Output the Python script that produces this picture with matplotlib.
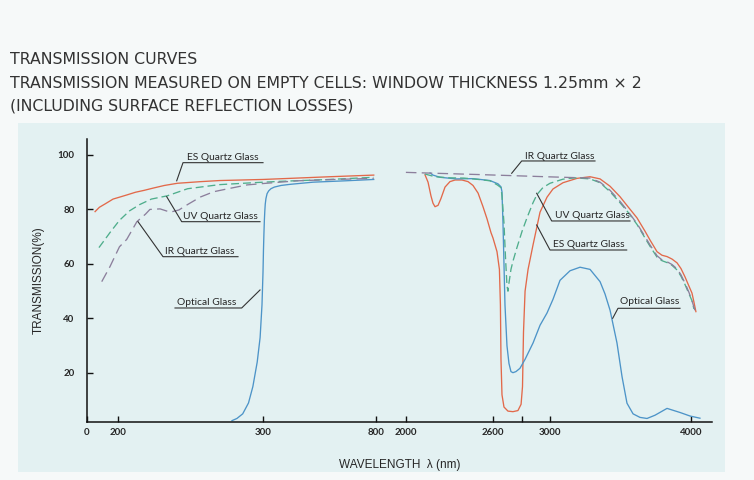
import matplotlib
matplotlib.use("Agg")
import matplotlib.pyplot as plt
import numpy as np
from matplotlib.patches import Rectangle

# broken wavelength axis: wavelength (nm) -> relative axis position
scale_wl = [0, 200, 300, 800, 2000, 2600, 3000, 4000, 4150]
scale_pos = [0, 31, 176, 289, 319, 406, 463, 604, 625]

x_ticks = [0, 200, 300, 800, 2000, 2600, 2800, 3000, 4000]
x_tick_labels = ["0", "200", "300", "800", "2000", "2600", "", "3000", "4000"]
y_ticks = [20, 40, 60, 80, 100]

# ---- UV / visible part (left of the break) ----
es_uv_wl = [52, 80, 116, 168, 201, 206, 212, 218, 224, 232, 241, 257, 270, 300, 419, 596, 790]
es_uv_t = [79.2, 80.8, 82.0, 83.8, 84.5, 85.3, 86.3, 87.0, 87.8, 88.8, 89.6, 90.2, 90.6, 91.0, 91.4, 92.0, 92.6]

uv_uv_wl = [77, 116, 148, 201, 208, 215, 223, 234, 248, 270, 293, 375, 596, 790]
uv_uv_t = [66.0, 69.0, 71.5, 76.0, 79.5, 81.8, 83.8, 85.0, 87.6, 89.1, 89.8, 90.3, 91.0, 91.8]

ir_uv_wl = [95, 148, 201, 206, 213, 219, 222, 229, 236, 242, 248, 257, 266, 275, 289, 300, 450, 619, 790]
ir_uv_t = [53.5, 59.0, 66.3, 69.0, 75.5, 78.3, 80.0, 80.2, 79.0, 79.8, 81.8, 84.6, 86.5, 87.5, 89.0, 89.5, 90.5, 91.0, 91.4]

opt_uv_wl = [278.6, 282, 286, 290, 293, 296, 298, 299.3, 300, 302, 304, 306, 308, 310, 313, 318,
             325, 335, 350, 380, 419, 521, 663, 790]
opt_uv_t = [2.5, 3.3, 5.0, 9.0, 15.0, 24.0, 33.0, 45.0, 57.0, 65.0, 71.0, 76.0, 79.5, 82.0, 84.0, 85.8,
            86.8, 87.6, 88.2, 88.8, 89.2, 90.0, 90.5, 91.0]

# ---- IR part (right of the break) ----
es_ir_wl = [2131, 2152, 2172, 2186, 2200, 2221, 2241, 2269, 2303, 2338, 2386, 2428, 2462, 2497,
            2531, 2559, 2586, 2600, 2628, 2645, 2652, 2656, 2663, 2677, 2705, 2740, 2775, 2797,
            2807, 2814, 2825, 2846, 2881, 2930, 2979, 3021, 3092, 3191, 3284, 3355, 3426, 3496,
            3553, 3617, 3674, 3709, 3759, 3794, 3830, 3865, 3901, 3929, 3957, 3986, 4007, 4021, 4035]
es_ir_t = [92.7, 90.0, 85.0, 82.3, 81.0, 81.5, 84.0, 88.2, 90.2, 90.8, 90.8, 90.2, 88.8, 86.0,
           81.0, 76.5, 71.5, 69.5, 64.5, 58.0, 45.0, 25.0, 12.0, 7.5, 6.0, 5.8, 6.2, 8.5,
           15.0, 35.0, 50.0, 58.0, 67.0, 79.0, 84.5, 87.5, 89.8, 91.4, 92.0, 91.2, 88.5, 84.7,
           81.0, 76.9, 72.0, 68.8, 64.5, 63.2, 62.7, 61.8, 60.4, 58.3, 55.3, 51.8, 49.3, 46.0, 42.5]

uv_ir_wl = [2130, 2200, 2300, 2400, 2500, 2580, 2630, 2656, 2663, 2677, 2688, 2698, 2705, 2712,
            2726, 2740, 2768, 2804, 2839, 2881, 2909, 2950, 3000, 3092, 3177, 3284, 3355, 3426,
            3496, 3553, 3617, 3674, 3709, 3759, 3794, 3830, 3865, 3901, 3929, 3957, 3986, 4007, 4021]
uv_ir_t = [93.0, 92.0, 91.6, 91.5, 91.0, 90.5, 89.0, 88.0, 85.0, 75.0, 62.0, 52.0, 50.0, 53.0,
           58.0, 61.0, 66.0, 72.0, 77.0, 82.5, 85.5, 88.0, 89.6, 91.1, 91.6, 91.2, 89.8, 86.5,
           82.5, 79.0, 74.5, 69.5, 66.5, 62.5, 61.2, 60.5, 59.5, 57.8, 55.5, 52.5, 49.0, 46.5, 43.5]

ir_ir_wl = [1995, 2500, 3000, 3284, 3355, 3426, 3496, 3553, 3617, 3674, 3709, 3759, 3794,
            3830, 3865, 3901, 3929, 3957, 3986, 4007, 4028]
ir_ir_t = [93.6, 92.8, 91.95, 91.5, 90.0, 87.0, 83.0, 79.3, 74.8, 70.0, 67.0, 63.0, 61.5,
           60.8, 59.8, 58.2, 56.0, 53.0, 49.5, 46.5, 43.0]

opt_ir_wl = [2166, 2186, 2234, 2345, 2462, 2579, 2635, 2656, 2663, 2670, 2677, 2684, 2698, 2712,
             2726, 2740, 2761, 2789, 2825, 2881, 2930, 2979, 3021, 3071, 3142, 3213, 3284, 3355,
             3390, 3426, 3475, 3511, 3546, 3589, 3638, 3688, 3745, 3830, 3922, 3993, 4064]
opt_ir_t = [93.4, 92.6, 91.8, 91.2, 91.3, 90.6, 89.4, 88.3, 86.5, 75.0, 60.0, 45.0, 30.0, 23.5,
            20.5, 20.1, 20.5, 21.7, 25.0, 31.0, 37.5, 42.0, 47.0, 54.0, 57.5, 58.8, 58.0, 53.5,
            49.0, 43.0, 31.0, 18.6, 8.9, 5.0, 3.7, 3.3, 4.5, 7.0, 5.5, 4.2, 3.4]

ES_COLOR = "#e2694a"
UV_COLOR = "#4fae8c"
IR_COLOR = "#8c7f9c"
OPT_COLOR = "#4d94c8"
INK = "#262626"

plt.rcParams["font.family"] = ["Lato", "DejaVu Sans"]

fig = plt.figure(figsize=(7.54, 4.8), dpi=100)
fig.patch.set_facecolor("#f6f9f9")
fig.patches.append(Rectangle((0.024, 0.017), 0.938, 0.727, transform=fig.transFigure,
                             facecolor="#e3f1f2", edgecolor="none", zorder=-5))

ax = fig.add_axes([0.1154, 0.1208, 0.8289, 0.5905])
ax.set_facecolor("none")
ax.set_zorder(2)


def fwd(x):
    return np.interp(x, scale_wl, scale_pos)


def inv(p):
    return np.interp(p, scale_pos, scale_wl)


ax.set_xscale("function", functions=(fwd, inv))
ax.set_xlim(0, 4150)
ax.set_ylim(2, 106)

lw = 0.95
ax.plot(es_uv_wl, es_uv_t, color=ES_COLOR, lw=lw)
ax.plot(es_ir_wl, es_ir_t, color=ES_COLOR, lw=lw)
ax.plot(opt_uv_wl, opt_uv_t, color=OPT_COLOR, lw=lw)
ax.plot(opt_ir_wl, opt_ir_t, color=OPT_COLOR, lw=lw)
ax.plot(uv_uv_wl, uv_uv_t, color=UV_COLOR, lw=lw, dashes=(6, 3))
ax.plot(uv_ir_wl, uv_ir_t, color=UV_COLOR, lw=lw, dashes=(6, 3))
ax.plot(ir_uv_wl, ir_uv_t, color=IR_COLOR, lw=lw, dashes=(8, 4))
ax.plot(ir_ir_wl, ir_ir_t, color=IR_COLOR, lw=lw, dashes=(8, 4))

for side in ["top", "right"]:
    ax.spines[side].set_visible(False)
for side in ["left", "bottom"]:
    ax.spines[side].set_linewidth(1.1)
    ax.spines[side].set_color("#111111")

ax.set_xticks(x_ticks)
ax.set_xticklabels(x_tick_labels)
ax.set_yticks(y_ticks)
ax.minorticks_off()
ax.tick_params(axis="both", direction="in", length=4, width=1.0, color="#111111",
               labelsize=7, labelcolor=INK)
ax.tick_params(axis="x", pad=4)
ax.tick_params(axis="y", pad=9)
for lab in ax.get_xticklabels() + ax.get_yticklabels():
    lab.set_fontweight("bold")

ax.set_ylabel("TRANSMISSION(%)", fontsize=8.5, color=INK, labelpad=9,
              family=["Liberation Sans", "DejaVu Sans"])
ax.set_xlabel("WAVELENGTH  \u03bb (nm)", fontsize=8.5, color=INK, labelpad=16,
              family=["Liberation Sans", "DejaVu Sans"])

# curve labels: (text, text x, text y, underline x0, x1, underline y, leader end x, y) in axes fraction
labels = [
    ("ES Quartz Glass", 0.160, 0.932, 0.1536, 0.2816, 0.915, 0.1435, 0.851),
    ("UV Quartz Glass", 0.1536, 0.7234, 0.1515, 0.2768, 0.7068, 0.1275, 0.795),
    ("IR Quartz Glass", 0.1248, 0.5999, 0.1216, 0.2416, 0.5833, 0.0816, 0.7068),
    ("IR Quartz Glass", 0.7008, 0.9361, 0.6955, 0.8128, 0.921, 0.6795, 0.8776),
    ("UV Quartz Glass", 0.7488, 0.7269, 0.7435, 0.8688, 0.7093, 0.7195, 0.807),
    ("ES Quartz Glass", 0.7456, 0.6246, 0.7408, 0.8635, 0.6069, 0.7195, 0.6951),
    ("Optical Glass", 0.8528, 0.4245, 0.8496, 0.9488, 0.4012, 0.8411, 0.3659),
]
for text, tx, ty, ux0, ux1, uy, lx, ly in labels:
    ax.text(tx, ty, text, transform=ax.transAxes, fontsize=7.4, color=INK,
            va="center", ha="left")
    ax.plot([lx, ux0, ux1], [ly, uy, uy], transform=ax.transAxes, color="#333333", lw=0.8)

# left optical glass label has its leader on the right end
ax.text(0.144, 0.4199, "Optical Glass", transform=ax.transAxes, fontsize=7.4, color=INK,
        va="center", ha="left")
ax.plot([0.1408, 0.2475, 0.2768], [0.4023, 0.4023, 0.4658], transform=ax.transAxes,
        color="#333333", lw=0.8)

title_kw = dict(fontsize=11.3, color="#333333", ha="left", va="center",
                family=["DejaVu Sans"])
fig.text(0.0133, 1 - 60 / 480, "TRANSMISSION CURVES", **title_kw)
fig.text(0.0133, 1 - 83 / 480,
         "TRANSMISSION MEASURED ON EMPTY CELLS: WINDOW THICKNESS 1.25mm \u00d7 2", **title_kw)
fig.text(0.0133, 1 - 106 / 480, "(INCLUDING SURFACE REFLECTION LOSSES)", **title_kw)

fig.savefig("out.png", dpi=100, facecolor=fig.get_facecolor())
